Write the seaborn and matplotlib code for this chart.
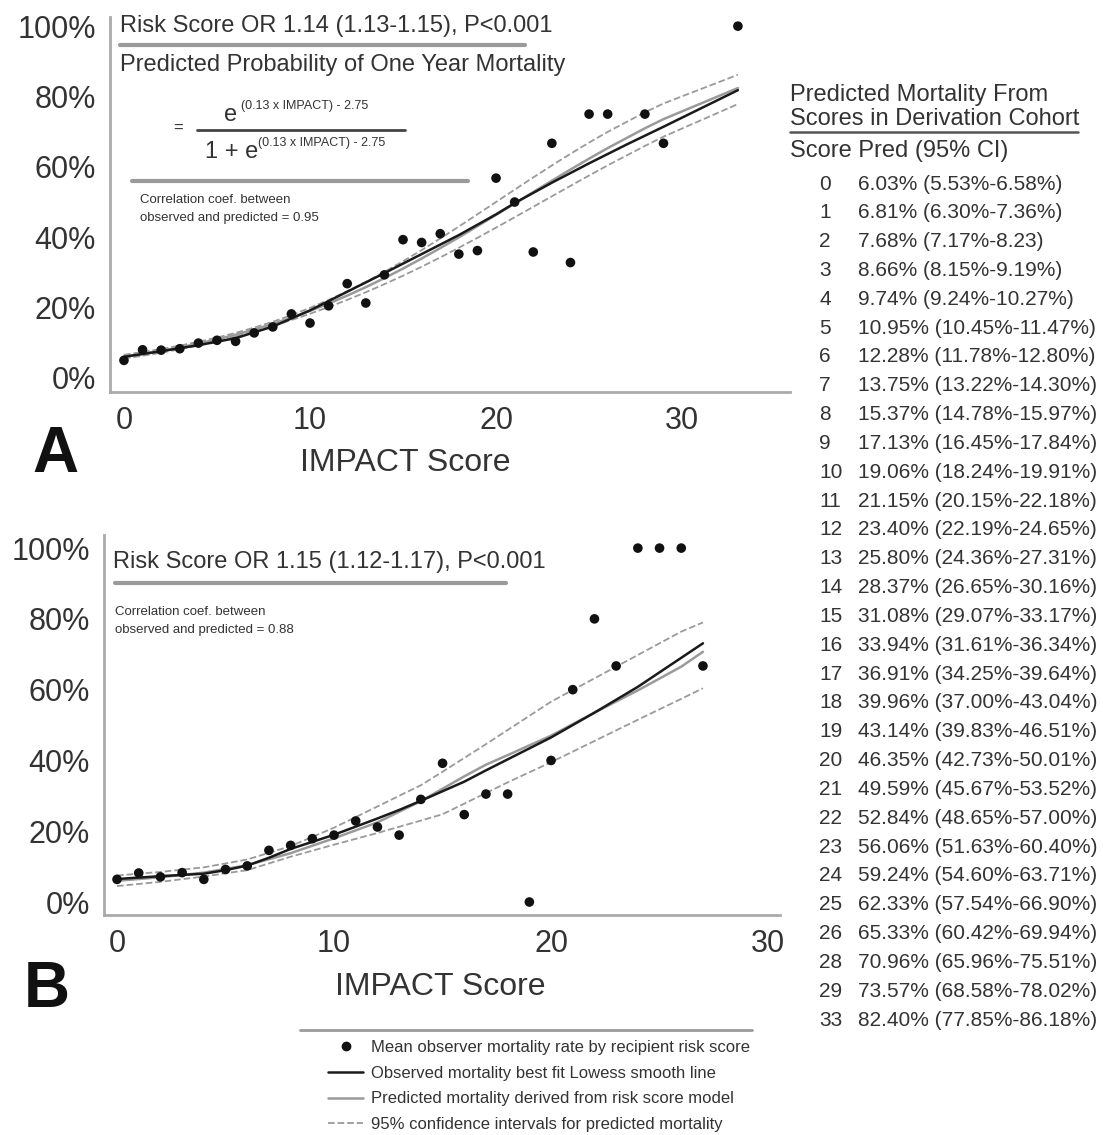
import numpy as np
import pandas as pd
import matplotlib.pyplot as plt
import seaborn as sns
from matplotlib.lines import Line2D

sns.set_style("white")
plt.rcParams['font.family'] = ['Liberation Sans', 'DejaVu Sans']

W, H = 1103, 1135
TXT = '#333333'
GREY = '#9a9a9a'

# --- Panel A: derivation cohort, observed mean mortality (%) by IMPACT score
a_score = list(range(27)) + [28, 29, 33]
a_obs = [5.0, 8.0, 7.9, 8.3, 9.9, 10.7, 10.4, 12.8, 14.5, 18.2, 15.6, 20.5, 26.8,
         21.3, 29.3, 39.3, 38.5, 41.0, 35.2, 36.2, 56.8, 50.0, 35.8, 66.7, 32.8,
         75.0, 75.0, 75.0, 66.7, 100.0]

# lowess line, panel A
a_low_x = [0, 2, 4, 6, 8, 10, 12, 14, 16, 18, 20, 21, 23, 25, 27, 29, 31, 33]
a_low_y = [6.0, 7.6, 9.3, 11.3, 14.6, 19.2, 24.5, 29.8, 35.2, 40.6, 46.5, 49.7,
           55.5, 61.0, 66.3, 71.4, 76.6, 81.8]

# table: predicted mortality from scores in derivation cohort
tab_score = list(range(27)) + [28, 29, 33]
tab_pred = [6.03, 6.81, 7.68, 8.66, 9.74, 10.95, 12.28, 13.75, 15.37, 17.13, 19.06,
            21.15, 23.40, 25.80, 28.37, 31.08, 33.94, 36.91, 39.96, 43.14, 46.35,
            49.59, 52.84, 56.06, 59.24, 62.33, 65.33, 70.96, 73.57, 82.40]
tab_lo = [5.53, 6.30, 7.17, 8.15, 9.24, 10.45, 11.78, 13.22, 14.78, 16.45, 18.24,
          20.15, 22.19, 24.36, 26.65, 29.07, 31.61, 34.25, 37.00, 39.83, 42.73,
          45.67, 48.65, 51.63, 54.60, 57.54, 60.42, 65.96, 68.58, 77.85]
tab_hi = [6.58, 7.36, 8.23, 9.19, 10.27, 11.47, 12.80, 14.30, 15.97, 17.84, 19.91,
          22.18, 24.65, 27.31, 30.16, 33.17, 36.34, 39.64, 43.04, 46.51, 50.01,
          53.52, 57.00, 60.40, 63.71, 66.90, 69.94, 75.51, 78.02, 86.18]

# --- Panel B: validation cohort
b_score = list(range(28))
b_obs = [6.4, 8.2, 7.1, 8.3, 6.4, 9.2, 10.2, 14.6, 16.0, 17.9, 18.9, 22.9, 21.2,
         18.9, 29.0, 39.2, 24.7, 30.5, 30.5, 0.0, 40.0, 60.0, 80.0, 66.7, 100.0,
         100.0, 100.0, 66.7]

b_curve_x = [0, 2, 4, 6, 8, 10, 12, 14, 15, 16, 17, 18, 20, 22, 24, 26, 27]
b_pred = [6.0, 7.0, 8.3, 10.4, 13.8, 18.0, 22.5, 28.5, 32.0, 35.5, 38.8, 41.5,
          47.0, 53.5, 59.8, 66.5, 70.7]
b_lo = [4.5, 5.7, 7.2, 9.0, 12.8, 16.2, 19.5, 23.0, 24.8, 27.8, 30.8, 33.8,
        39.5, 45.5, 51.5, 57.4, 60.4]
b_hi = [7.5, 8.5, 9.8, 12.0, 15.8, 21.0, 27.0, 33.0, 36.8, 40.7, 44.6, 48.6,
        56.6, 63.2, 69.8, 76.4, 79.0]

b_low_x = [0, 2, 4, 5, 6, 7, 8, 9, 10, 11, 12, 13, 14, 15, 16, 17, 18, 19, 20,
           22, 24, 27]
b_low_y = [6.5, 7.3, 8.0, 9.0, 10.3, 12.5, 15.0, 17.0, 19.0, 21.3, 23.6, 26.0,
           28.6, 31.3, 34.0, 37.2, 40.3, 43.4, 46.5, 53.5, 60.8, 73.1]

fig = plt.figure(figsize=(W / 100, H / 100), dpi=100)


def ftext(x, y, s, **kw):
    kw.setdefault('color', TXT)
    kw.setdefault('va', 'center')
    fig.text(x / W, 1 - y / H, s, **kw)


def fline(x0, x1, y, **kw):
    fig.add_artist(Line2D([x0 / W, x1 / W], [1 - y / H, 1 - y / H],
                          transform=fig.transFigure, **kw))


def draw_panel(ax, pts, pred, lo, hi, low):
    sns.lineplot(x=lo[0], y=lo[1], ax=ax, color=GREY, lw=1.3, linestyle='--')
    sns.lineplot(x=hi[0], y=hi[1], ax=ax, color=GREY, lw=1.3, linestyle='--')
    sns.lineplot(x=pred[0], y=pred[1], ax=ax, color=GREY, lw=1.8)
    sns.lineplot(x=low[0], y=low[1], ax=ax, color='#1a1a1a', lw=1.8)
    sns.scatterplot(x=pts[0], y=pts[1], ax=ax, color='#111111', s=48,
                    edgecolor='none', zorder=5)
    for s in ['top', 'right']:
        ax.spines[s].set_visible(False)
    for s in ['left', 'bottom']:
        ax.spines[s].set_color('#aaaaaa')
        ax.spines[s].set_linewidth(2)
    ax.set_xticks([0, 10, 20, 30])
    ax.set_yticks([0, 20, 40, 60, 80, 100])
    ax.set_yticklabels([f'{v}%' for v in [0, 20, 40, 60, 80, 100]])
    ax.tick_params(axis='both', length=7, width=1.5, color='#aaaaaa',
                   labelcolor=TXT, pad=3)
    ax.tick_params(axis='y', labelsize=22)
    ax.tick_params(axis='x', labelsize=22)
    ax.set_ylabel('')
    ax.set_xlabel('IMPACT Score', fontsize=23, color=TXT)


# Panel A
axA = fig.add_axes([110 / W, 1 - 392 / H, 680 / W, 375 / H])
draw_panel(axA, (a_score, a_obs), (tab_score, tab_pred), (tab_score, tab_lo),
           (tab_score, tab_hi), (a_low_x, a_low_y))
axA.set_xlim(-0.75, 35.8)
axA.set_ylim(-4.0, 102.6)
axA.xaxis.set_label_coords(0.434, -0.15)

# Panel B
axB = fig.add_axes([104 / W, 1 - 915 / H, 676 / W, 380 / H])
draw_panel(axB, (b_score, b_obs), (b_curve_x, b_pred), (b_curve_x, b_lo),
           (b_curve_x, b_hi), (b_low_x, b_low_y))
axB.set_xlim(-0.6, 30.55)
axB.set_ylim(-3.67, 103.7)
axB.xaxis.set_label_coords(0.497, -0.15)

# panel letters
ftext(55, 455, 'A', fontsize=46, fontweight='bold', color='#111111', ha='center')
ftext(47, 990, 'B', fontsize=46, fontweight='bold', color='#111111', ha='center')

# Panel A annotations
ftext(120, 26, 'Risk Score OR 1.14 (1.13-1.15), P<0.001', fontsize=17)
fline(120, 525, 45, color=GREY, lw=3)
ftext(120, 65, 'Predicted Probability of One Year Mortality', fontsize=17)
ftext(173, 128, '=', fontsize=12)
ftext(231, 115, 'e', fontsize=17, ha='center')
ftext(241, 106, '(0.13 x IMPACT) - 2.75', fontsize=9)
fline(197, 405, 130, color='#444444', lw=2)
ftext(205, 152, '1 + e', fontsize=17)
ftext(258, 143, '(0.13 x IMPACT) - 2.75', fontsize=9)
fline(132, 468, 181, color=GREY, lw=3)
ftext(140, 200, 'Correlation coef. between', fontsize=9.5)
ftext(140, 218, 'observed and predicted = 0.95', fontsize=9.5)

# Panel B annotations
ftext(113, 562, 'Risk Score OR 1.15 (1.12-1.17), P<0.001', fontsize=17)
fline(115, 506, 583, color=GREY, lw=3)
ftext(115, 612, 'Correlation coef. between', fontsize=9.5)
ftext(115, 630, 'observed and predicted = 0.88', fontsize=9.5)

# Right-hand table
ftext(790, 95, 'Predicted Mortality From', fontsize=17)
ftext(790, 119, 'Scores in Derivation Cohort', fontsize=17)
fline(790, 1078, 132, color='#555555', lw=1.8)
ftext(790, 151, 'Score Pred (95% CI)', fontsize=17)
hi_pct = ['%'] * len(tab_score)
hi_pct[2] = ''  # printed without % in the source table
for i, sc in enumerate(tab_score):
    y = 184 + i * 28.83
    ftext(819, y, str(sc), fontsize=15)
    ftext(858, y, f'{tab_pred[i]:.2f}% ({tab_lo[i]:.2f}%-{tab_hi[i]:.2f}{hi_pct[i]})',
          fontsize=15)

# Legend
fline(300, 752, 1030, color=GREY, lw=2)
handles = [
    Line2D([], [], marker='o', color='#111111', linestyle='None', markersize=6),
    Line2D([], [], color='#1a1a1a', lw=1.8),
    Line2D([], [], color=GREY, lw=1.8),
    Line2D([], [], color=GREY, lw=1.3, linestyle='--'),
]
labels = [
    'Mean observer mortality rate by recipient risk score',
    'Observed mortality best fit Lowess smooth line',
    'Predicted mortality derived from risk score model',
    '95% confidence intervals for predicted mortality',
]
leg = fig.legend(handles, labels, loc='upper left',
                 bbox_to_anchor=(328 / W, 1 - 1040 / H), frameon=False,
                 fontsize=12, handlelength=2.1, handletextpad=0.5,
                 labelspacing=0.64, borderpad=0, borderaxespad=0)
for t in leg.get_texts():
    t.set_color(TXT)

fig.savefig('out.png', dpi=100)
